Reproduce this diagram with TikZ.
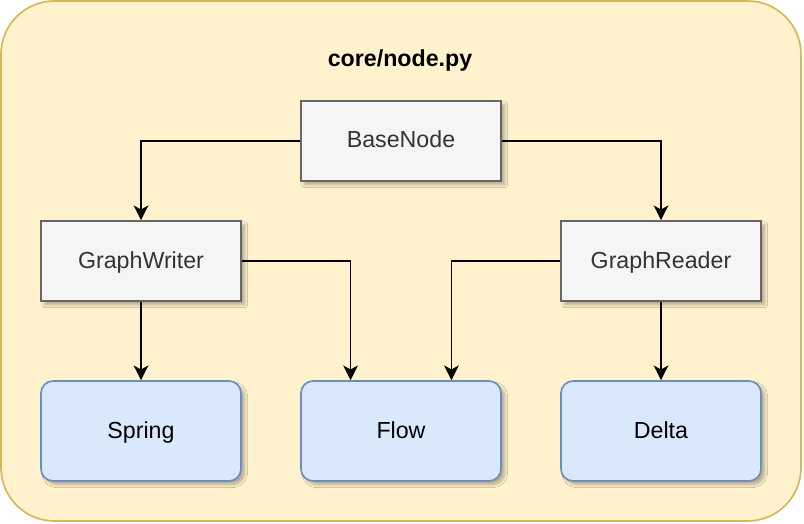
\documentclass[tikz,border=0pt]{standalone}
\usepackage{fontspec}
\setmainfont{Liberation Sans}
\usetikzlibrary{arrows.meta,shadows.blur,calc}
\definecolor{contfill}{HTML}{FFF2CC}
\definecolor{contline}{HTML}{D6B656}
\definecolor{grayfill}{HTML}{F5F5F5}
\definecolor{grayline}{HTML}{666666}
\definecolor{graytext}{HTML}{333333}
\definecolor{bluefill}{HTML}{DAE8FC}
\definecolor{blueline}{HTML}{6C8EBF}
\tikzset{
  px/.style={x=0.75pt,y=-0.75pt},
  shad/.style={blur shadow={shadow xshift=2.8pt,shadow yshift=-2.8pt,shadow blur radius=2.2pt,shadow blur steps=8,shadow opacity=30}},
  boxfont/.style={font=\fontsize{17.4}{20}\selectfont,text height=14pt,text depth=3.5pt},
  classbox/.style={draw=grayline,fill=grayfill,text=graytext,line width=1.25pt,minimum width=150pt,minimum height=60pt,inner sep=0pt,boxfont,shad},
  leafbox/.style={draw=blueline,fill=bluefill,text=black,line width=1.25pt,rounded corners=9pt,minimum width=150pt,minimum height=75pt,inner sep=0pt,boxfont,shad},
  conn/.style={draw=black,line width=1.25pt,-{Stealth[length=11pt,width=11pt,inset=3pt]}},
}
\begin{document}
\begin{tikzpicture}[px]
\useasboundingbox (0,0) rectangle (804,524);
\draw[draw=contline,fill=contfill,line width=1.25pt,rounded corners=40pt] (1,1) rectangle (801,521);
\node[boxfont,font=\bfseries\fontsize{17.4}{20}\selectfont,inner sep=0pt] (title) at (400,60) {core/node.py};
\node[classbox] (base) at (401,141) {BaseNode};
\node[classbox] (writer) at (141,261) {GraphWriter};
\node[classbox] (reader) at (661,261) {GraphReader};
\node[leafbox] (spring) at (141,431) {Spring};
\node[leafbox] (flow) at (401,431) {Flow};
\node[leafbox] (delta) at (661,431) {Delta};
\draw[conn] (base.west) -| (writer.north);
\draw[conn] (base.east) -| (reader.north);
\draw[conn] (writer.south) -- (spring.north);
\draw[conn] (reader.south) -- (delta.north);
\draw[conn] (writer.east) -| ($(flow.north west)!0.25!(flow.north east)$);
\draw[conn] (reader.west) -| ($(flow.north west)!0.75!(flow.north east)$);
\end{tikzpicture}
\end{document}
